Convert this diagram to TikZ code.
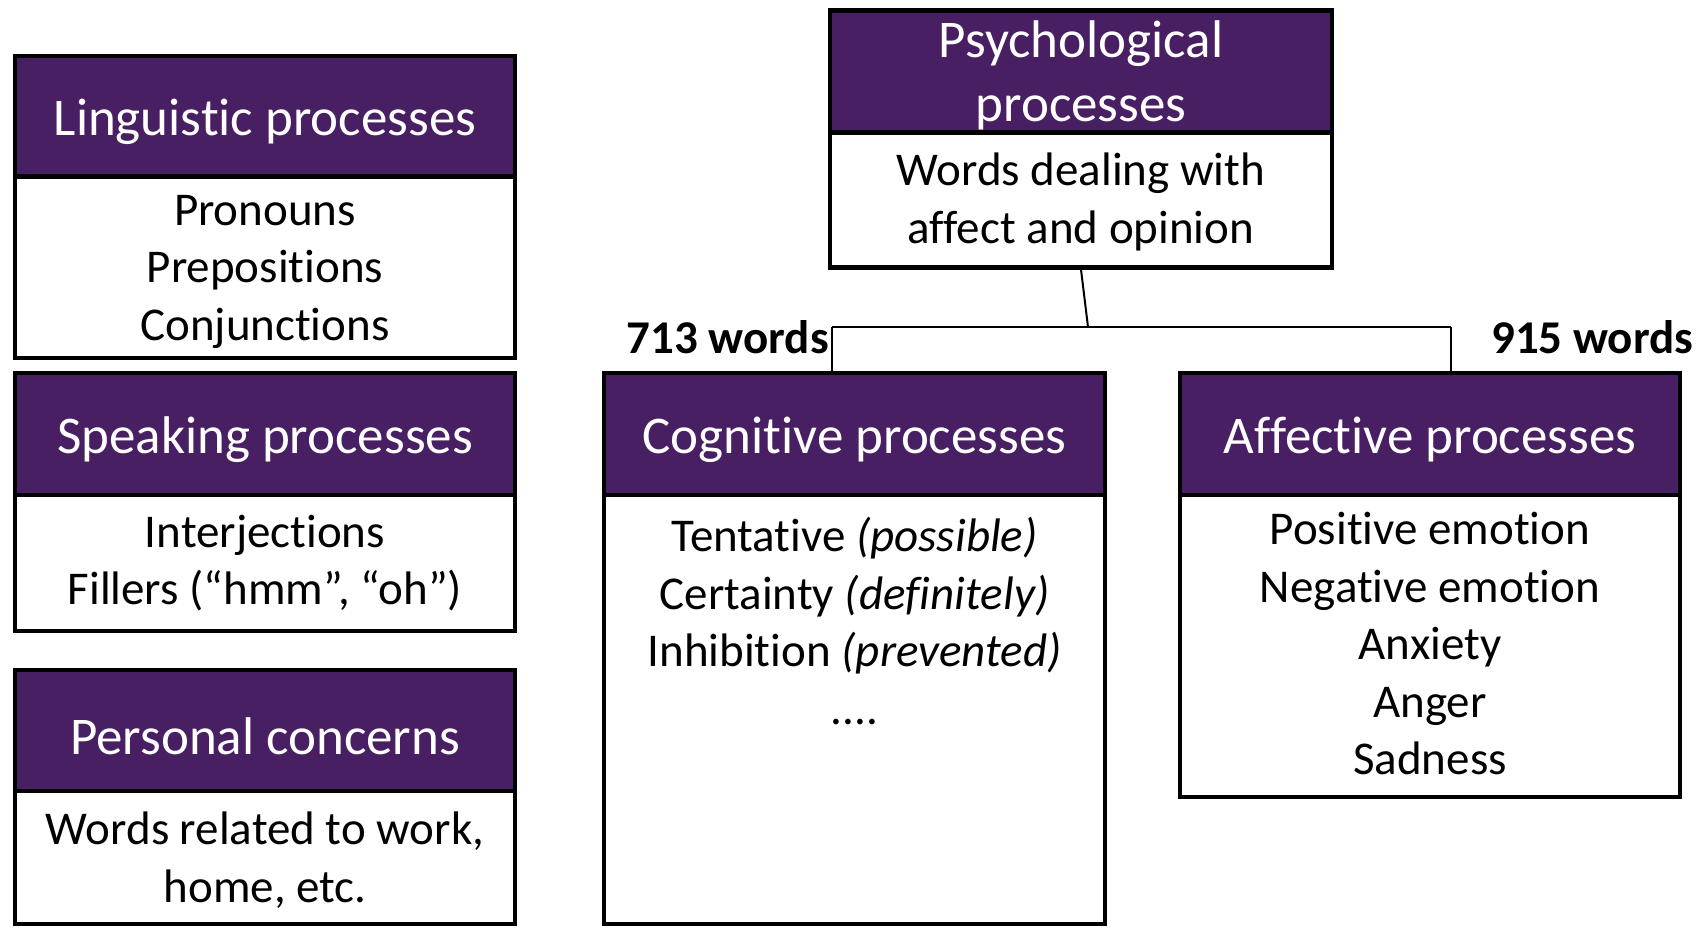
\documentclass[tikz,border=0pt]{standalone}
\usepackage{fontspec}
\setmainfont{Carlito}[Ligatures=NoCommon]
\definecolor{lpurple}{RGB}{73,31,99}
\tikzset{
  hdr/.style={draw=black, line width=4.5pt, fill=lpurple, text=white,
    font=\fontsize{53}{64}\selectfont, align=center, inner sep=0pt},
  bdy/.style={draw=black, line width=4.5pt, fill=white,
    font=\fontsize{47}{57.5}\selectfont, align=center, inner sep=0pt},
  plain/.style={font=\fontsize{47}{57.5}\selectfont, align=center, inner sep=0pt},
  conn/.style={line width=2pt},
  count/.style={font=\bfseries\fontsize{47}{57}\selectfont, inner sep=0pt}
}
\newcommand{\hstrut}{\rule{0pt}{48pt}}
\begin{document}
\begin{tikzpicture}[x=1pt,y=-1pt]
\useasboundingbox (0,0) rectangle (1703,927);

% left column
\node[bdy, minimum width=500, minimum height=182] (lingB) at (265,267)
  {\rule{0pt}{40pt}Pronouns\\Prepositions\\Conjunctions};
\node[hdr, minimum width=500, minimum height=120.5] (lingH) at (265,116)
  {\hstrut Linguistic processes};

\node[bdy, minimum width=500, minimum height=136] (speakB) at (265,563)
  {Interjections\\Fillers (“hmm”, “oh”)};
\node[hdr, minimum width=500, minimum height=122] (speakH) at (265,434)
  {\hstrut Speaking processes};

\node[bdy, minimum width=500, minimum height=133] (persB) at (265,857.5)
  {\rule{0pt}{38pt}Words related to work,\\home, etc.};
\node[hdr, minimum width=500, minimum height=121] (persH) at (265,730.5)
  {\hstrut Personal concerns};

% psychological processes
\node[bdy, minimum width=502, minimum height=134.5] (psyB) at (1081,200)
  {\rule{0pt}{37pt}Words dealing with\\affect and opinion};
\node[hdr, minimum width=502, minimum height=122] (psyH) at (1081,71.5)
  {\rule{0pt}{44pt}Psychological\\processes};

% cognitive processes
\node[bdy, minimum width=501, minimum height=429] (cogB) at (854.5,709.5) {};
\node[hdr, minimum width=501, minimum height=122] (cogH) at (854.5,434)
  {\hstrut Cognitive processes};
\node[plain, anchor=north] (cogT) at (854.5,517)
  {Tentative \textit{(possible)}\\Certainty \textit{(definitely)}\\Inhibition \textit{(prevented)}\\....};

% affective processes
\node[bdy, minimum width=500, minimum height=302] (affB) at (1430,646)
  {Positive emotion\\Negative emotion\\Anxiety\\Anger\\Sadness\rule[-5pt]{0pt}{5pt}};
\node[hdr, minimum width=500, minimum height=122] (affH) at (1430,434)
  {\hstrut Affective processes};

% tree connectors
\coordinate (split) at (1088,327);
\coordinate (jl) at (832,327);
\coordinate (jr) at (1451,327);
\draw[conn] (psyB.south) -- (split);
\draw[conn] (jl) -- (jr);
\draw[conn] (jl) -- (jl |- cogH.north);
\draw[conn] (jr) -- (jr |- affH.north);

% word counts
\node[count, anchor=east] (cogN) at (829,337) {713 words};
\node[count, anchor=west] (affN) at (1491,337) {915 words};
\end{tikzpicture}
\end{document}
